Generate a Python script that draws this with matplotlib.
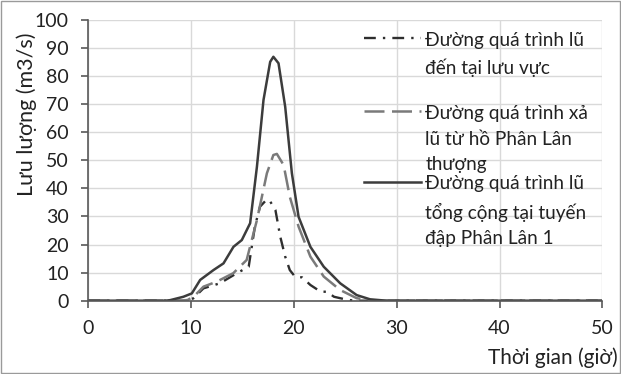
import matplotlib
matplotlib.use('Agg')
import matplotlib.pyplot as plt
from matplotlib.patches import Rectangle

plt.rcParams['font.family'] = ['Lato', 'DejaVu Sans']

# flood hydrographs (time in hours, discharge m3/s)
t_inflow = [0, 9.5, 10.2, 11.2, 12.8, 14.45, 15.6, 16.2, 16.7, 17.37, 17.7, 18.2,
            18.67, 19.15, 19.6, 20.1, 20.8, 21.6, 22.6, 23.2, 23.9, 25.2, 26, 50]
q_inflow = [0, 0, 0.8, 4.4, 6.2, 9.8, 12.1, 26.4, 33.5, 36.1, 35.3, 32.3,
            22.8, 15.7, 10.9, 8.6, 8.3, 5.6, 3.2, 3.2, 1.4, 0.3, 0, 0]

t_release = [0, 9.2, 9.7, 10.4, 11.2, 12.5, 14.1, 15.4, 16.4, 17.37, 18.0, 18.34,
             19.0, 19.6, 20.45, 21.6, 22.9, 24.5, 26.1, 27.5, 50]
q_release = [0, 0, 0.3, 2.0, 5.0, 6.8, 9.8, 14.5, 28.7, 45.4, 51.9, 52.3,
             48.3, 37.0, 26.4, 15.7, 8.6, 3.8, 0.9, 0, 0]

t_total = [0, 7.5, 7.96, 9.25, 10.07, 10.88, 12.17, 13.15, 14.12, 14.93, 15.74, 16.4,
           17.04, 17.69, 18.0, 18.5, 19.15, 19.8, 20.45, 21.6, 22.9, 24.5, 26.1,
           27.4, 29, 50]
q_total = [0, 0, 0.2, 1.4, 2.6, 7.4, 10.9, 13.3, 19.2, 21.6, 27.6, 47.7,
           71.5, 85.1, 86.9, 84.6, 69.1, 45.4, 29.9, 19.2, 12.1, 6.2, 2.0,
           0.5, 0, 0]

labels = ['Đường quá trình lũ\nđến tại lưu vực\n',
          'Đường quá trình xả\nlũ từ hồ Phân Lân\nthượng',
          'Đường quá trình lũ\ntổng cộng tại tuyến\nđập Phân Lân 1']

fig = plt.figure(figsize=(6.21, 3.74), dpi=100)
ax = fig.add_axes([0.1422, 0.196, 0.8278, 0.7505])

ax.plot(t_inflow, q_inflow, color='#2e2e2e', lw=1.7, ls=(0, (5, 3, 1, 3)), label=labels[0])
ax.plot(t_release, q_release, color='#7a7a7a', lw=1.8, ls=(0, (8, 3)), label=labels[1])
ax.plot(t_total, q_total, color='#3c3c3c', lw=1.8, label=labels[2])

ax.set_xlim(0, 50)
ax.set_ylim(0, 100)
ax.set_xticks(range(0, 51, 10))
ax.set_yticks(range(0, 101, 10))
ax.grid(True, color='#d9d9d9', lw=1)
ax.set_axisbelow(True)
for s in ['top', 'right']:
    ax.spines[s].set_visible(False)
for s in ['left', 'bottom']:
    ax.spines[s].set_color('#595959')
    ax.spines[s].set_linewidth(1.2)
ax.tick_params(direction='out', length=5, width=1.2, color='#595959',
               labelsize=14, labelcolor='#222222', pad=9)

leg = ax.legend(loc='upper left', bbox_to_anchor=(0.537, 0.958), frameon=False,
                fontsize=13.7, handlelength=3.0, handletextpad=0.2, labelspacing=0.1,
                borderpad=0, borderaxespad=0)
for t in leg.get_texts():
    t.set_linespacing(1.63)
    t.set_color('#222222')
for col in leg._legend_handle_box.get_children():
    for item in col.get_children():
        item.align = 'top'

fig.text(27 / 621, 1 - 114 / 374, 'Lưu lượng (m3/s)', rotation=90, fontsize=15.5,
         ha='center', va='center', color='#222222')
fig.text(618 / 621, 1 - 358 / 374, 'Thời gian (giờ)', fontsize=15,
         ha='right', va='center', color='#222222')

fig.add_artist(Rectangle((0.001, 0.002), 0.997, 0.996, transform=fig.transFigure,
                         fill=False, edgecolor='#9a9a9a', lw=1))

fig.savefig('out.png', dpi=100)
